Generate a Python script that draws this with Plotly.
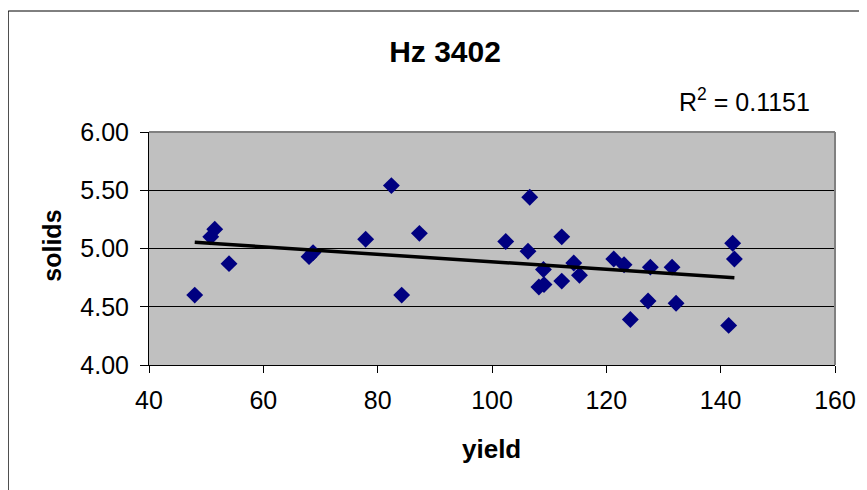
import numpy as np
import plotly.graph_objects as go

yield_vals = [48.0, 50.8, 51.5, 54.0, 68.0, 68.7, 77.9, 82.4, 84.2, 87.3,
              102.4, 106.6, 106.3, 109.0, 108.2, 109.1, 112.2, 112.2, 114.3, 115.3,
              121.3, 123.1, 124.2, 127.7, 127.3, 131.5, 132.2, 141.4, 142.1, 142.4]
solids_vals = [4.60, 5.10, 5.165, 4.87, 4.93, 4.965, 5.08, 5.54, 4.60, 5.13,
               5.06, 5.44, 4.977, 4.82, 4.67, 4.69, 5.10, 4.72, 4.876, 4.77,
               4.91, 4.86, 4.39, 4.84, 4.55, 4.84, 4.53, 4.34, 5.045, 4.91]
x_ticks = [40, 60, 80, 100, 120, 140, 160]
y_ticks = [4.0, 4.5, 5.0, 5.5, 6.0]
title_text = "Hz 3402"
x_title = "yield"
y_title = "solids"
r2_text = "R<sup>2</sup> = 0.1151"

slope, intercept = np.polyfit(yield_vals, solids_vals, 1)
xf = np.array([min(yield_vals), max(yield_vals)])
yf = slope * xf + intercept

FONT = "Liberation Sans, Arial, sans-serif"
W, H = 859, 482
L, T, PW, PH = 141.3, 124.0, 686.0, 233.0

def px(x):
    return (x - L) / PW

def py(y):
    return 1 - (y - T) / PH

fig = go.Figure()
fig.add_trace(go.Scatter(x=yield_vals, y=solids_vals, mode="markers",
                         marker=dict(symbol="diamond", size=13, color="#000080",
                                     line=dict(width=0)),
                         showlegend=False))
fig.add_trace(go.Scatter(x=xf, y=yf, mode="lines",
                         line=dict(color="black", width=3.5), showlegend=False))

fig.update_layout(
    width=W, height=H,
    margin=dict(l=L, r=W - L - PW, t=T, b=H - T - PH, autoexpand=False),
    paper_bgcolor="white", plot_bgcolor="#C0C0C0",
    font=dict(family=FONT, color="black", size=25),
    title=dict(text="<b>" + title_text + "</b>", x=437 / W, xanchor="center",
               y=1 - 43 / H, yanchor="middle", font=dict(size=30)),
    showlegend=False,
)
fig.update_xaxes(range=[40, 160], tickvals=x_ticks, ticktext=[str(v) for v in x_ticks],
                 showgrid=False, zeroline=False, showline=True, linecolor="black", linewidth=1,
                 ticks="outside", ticklen=7, tickcolor="black", ticklabelstandoff=6,
                 tickfont=dict(size=25), automargin=False)
fig.update_yaxes(range=[4.0, 6.0], tickvals=y_ticks, ticktext=[f"{v:.2f}" for v in y_ticks],
                 showgrid=True, gridcolor="black", gridwidth=1, zeroline=False,
                 showline=True, linecolor="black", linewidth=1,
                 ticks="outside", ticklen=8, tickcolor="black", ticklabelstandoff=6,
                 tickfont=dict(size=25), automargin=False)

# plot area gray border on top and right
fig.add_shape(type="line", xref="paper", yref="paper", x0=0, x1=1, y0=1, y1=1,
              line=dict(color="#808080", width=2))
fig.add_shape(type="line", xref="paper", yref="paper", x0=1, x1=1, y0=0, y1=1,
              line=dict(color="#808080", width=2))
# chart-area border (left & top visible)
fig.add_shape(type="rect", xref="paper", yref="paper",
              x0=px(0.5), x1=px(W + 20), y0=py(H + 20), y1=py(3),
              line=dict(color="black", width=1), fillcolor="rgba(0,0,0,0)")

fig.add_annotation(text=r2_text, xref="paper", yref="paper",
                   x=px(804), xanchor="right", y=py(92), yanchor="middle",
                   showarrow=False, font=dict(size=25))
fig.add_annotation(text="<b>" + y_title + "</b>", xref="paper", yref="paper",
                   x=px(44), xanchor="center", y=py(238), yanchor="middle",
                   textangle=-90, showarrow=False, font=dict(size=25))
fig.add_annotation(text="<b>" + x_title + "</b>", xref="paper", yref="paper",
                   x=px(484), xanchor="center", y=py(441), yanchor="middle",
                   showarrow=False, font=dict(size=26))

fig.write_html("out.html")
